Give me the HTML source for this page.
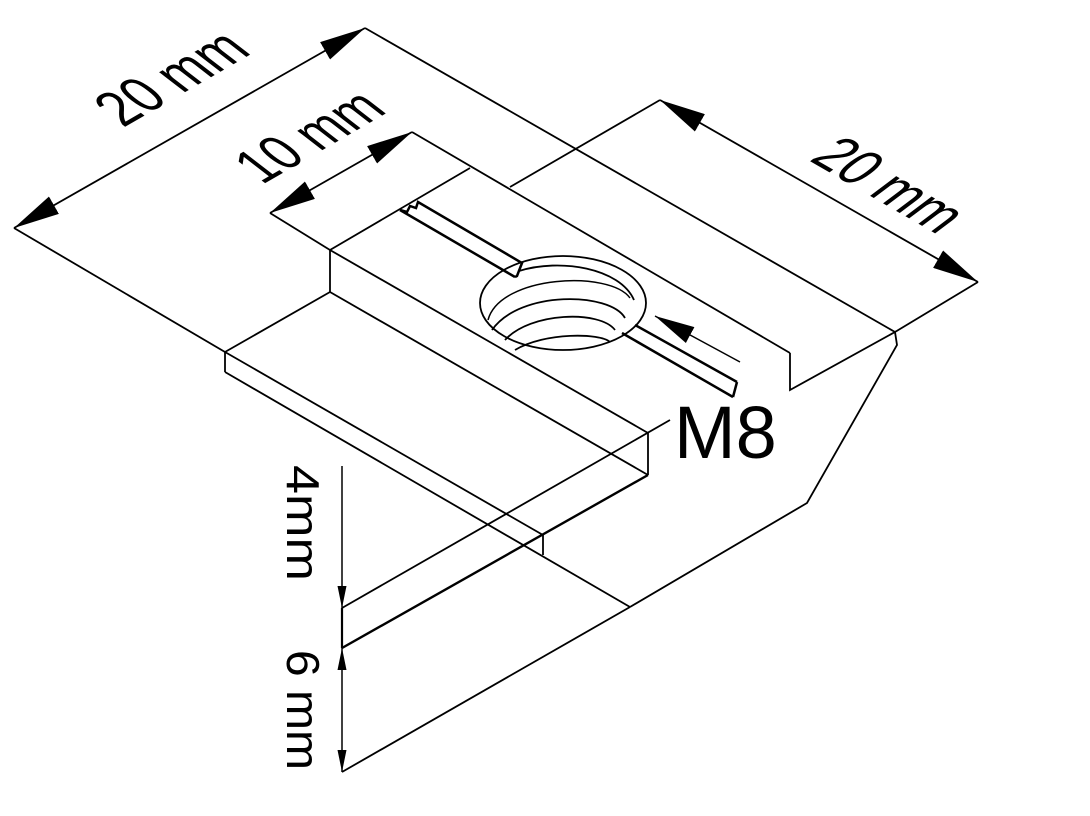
<!DOCTYPE html>
<html><head><meta charset="utf-8"><style>
html,body{margin:0;padding:0;background:#fff;}
svg{display:block;}
text{font-family:"Liberation Sans",sans-serif;fill:#000;}
</style></head><body>
<svg width="1090" height="816" viewBox="0 0 1090 816" xmlns="http://www.w3.org/2000/svg">
<defs>
<marker id="ah" viewBox="0 0 10 10" refX="10" refY="5" markerWidth="22" markerHeight="9" markerUnits="userSpaceOnUse" orient="auto-start-reverse" preserveAspectRatio="none">
<path d="M0,0 L10,5 L0,10 z" fill="#000"/>
</marker>
<marker id="ah2" viewBox="0 0 10 10" refX="10" refY="5" markerWidth="46" markerHeight="20" markerUnits="userSpaceOnUse" orient="auto-start-reverse" preserveAspectRatio="none">
<path d="M0,0 L10,5 L0,10 z" fill="#000"/>
</marker>
<marker id="ah3" viewBox="0 0 10 10" refX="10" refY="5" markerWidth="40" markerHeight="18" markerUnits="userSpaceOnUse" orient="auto-start-reverse" preserveAspectRatio="none">
<path d="M0,0 L10,5 L0,10 z" fill="#000"/>
</marker>
</defs>
<g stroke="#000" stroke-width="1.8" fill="none" stroke-linejoin="miter">
<!-- top-left dimension -->
<line x1="14" y1="228" x2="365" y2="28" marker-start="url(#ah2)" marker-end="url(#ah2)"/>
<line x1="14" y1="228" x2="225" y2="352"/>
<line x1="365" y1="28" x2="895" y2="332"/>
<!-- 10mm dimension -->
<line x1="270" y1="213" x2="412" y2="132" marker-start="url(#ah2)" marker-end="url(#ah2)"/>
<line x1="270" y1="213" x2="330" y2="250"/>
<line x1="412" y1="132" x2="790" y2="353"/>
<!-- right dimension -->
<line x1="660" y1="100" x2="978" y2="282" marker-start="url(#ah2)" marker-end="url(#ah2)"/>
<line x1="660" y1="100" x2="510" y2="187"/>
<line x1="978" y1="282" x2="895" y2="332"/>
<!-- raised block -->
<line x1="330" y1="250" x2="470" y2="168"/>
<line x1="330" y1="250" x2="330" y2="292"/>
<line x1="330" y1="250" x2="648" y2="433"/>
<line x1="648" y1="433" x2="648" y2="475"/>
<line x1="330" y1="292" x2="648" y2="475"/>
<polyline points="790,353 790,390 895,332 897,345 807,503 630,607"/>
<!-- flange -->
<line x1="330" y1="292" x2="225" y2="352"/>
<line x1="225" y1="352" x2="225" y2="372"/>
<line x1="225" y1="352" x2="543" y2="535"/>
<line x1="543" y1="535" x2="543" y2="555"/>
<line x1="648" y1="475" x2="342" y2="648" stroke-width="2.4"/>
<line x1="225" y1="372" x2="630" y2="607"/>
<line x1="670" y1="420" x2="342" y2="608"/>
<line x1="630" y1="607" x2="342" y2="772"/>
<!-- slot -->
<polyline points="400,210 407,212 410,206 416,208 418,202 522,263 517,276 515,277" stroke-width="2.5"/>
<line x1="400" y1="210" x2="515" y2="277" stroke-width="2.5"/>
<line x1="635" y1="325" x2="737" y2="382" stroke-width="2.5"/>
<line x1="622" y1="333" x2="733" y2="397" stroke-width="2.5"/>
<line x1="737" y1="382" x2="733" y2="397" stroke-width="2.5"/>
<!-- hole -->
<ellipse cx="563" cy="303" rx="83" ry="47"/>
<path d="M488,320 C500,275 610,270 630,298" stroke-width="1.5"/>
<path d="M492,330 C520,290 610,292 625,318"/>
<path d="M505,340 C530,312 600,310 615,330"/>
<path d="M515,350 C545,332 600,333 610,342"/>
<path d="M519,271 C560,258 620,268 634,300"/>
<!-- M8 arrow -->
<line x1="740" y1="362" x2="655" y2="316" stroke-width="1.5" marker-end="url(#ah3)"/>
<!-- vertical dims -->
<line x1="342" y1="466" x2="342" y2="608" stroke-width="1.5" marker-end="url(#ah)"/>
<line x1="342" y1="608" x2="342" y2="648" stroke-width="2.2"/>
<line x1="342" y1="648" x2="342" y2="772" stroke-width="1.5" marker-start="url(#ah)" marker-end="url(#ah)"/>
</g>
<text transform="matrix(0.866,-0.5,0.79,0.61,123,128)" font-size="62" textLength="150" lengthAdjust="spacingAndGlyphs">20 mm</text>
<text transform="matrix(0.866,-0.5,0.79,0.61,262,185)" font-size="60" textLength="146" lengthAdjust="spacingAndGlyphs">10 mm</text>
<text transform="matrix(0.866,0.5,-0.8,0.6,808,160)" font-size="62" textLength="150" lengthAdjust="spacingAndGlyphs">20 mm</text>
<text transform="translate(287,465) rotate(90)" font-size="46" textLength="116" lengthAdjust="spacingAndGlyphs">4mm</text>
<text transform="translate(287,650) rotate(90)" font-size="46" textLength="120" lengthAdjust="spacingAndGlyphs">6 mm</text>
<text x="674" y="458" font-size="74">M8</text>
</svg>
</body></html>
